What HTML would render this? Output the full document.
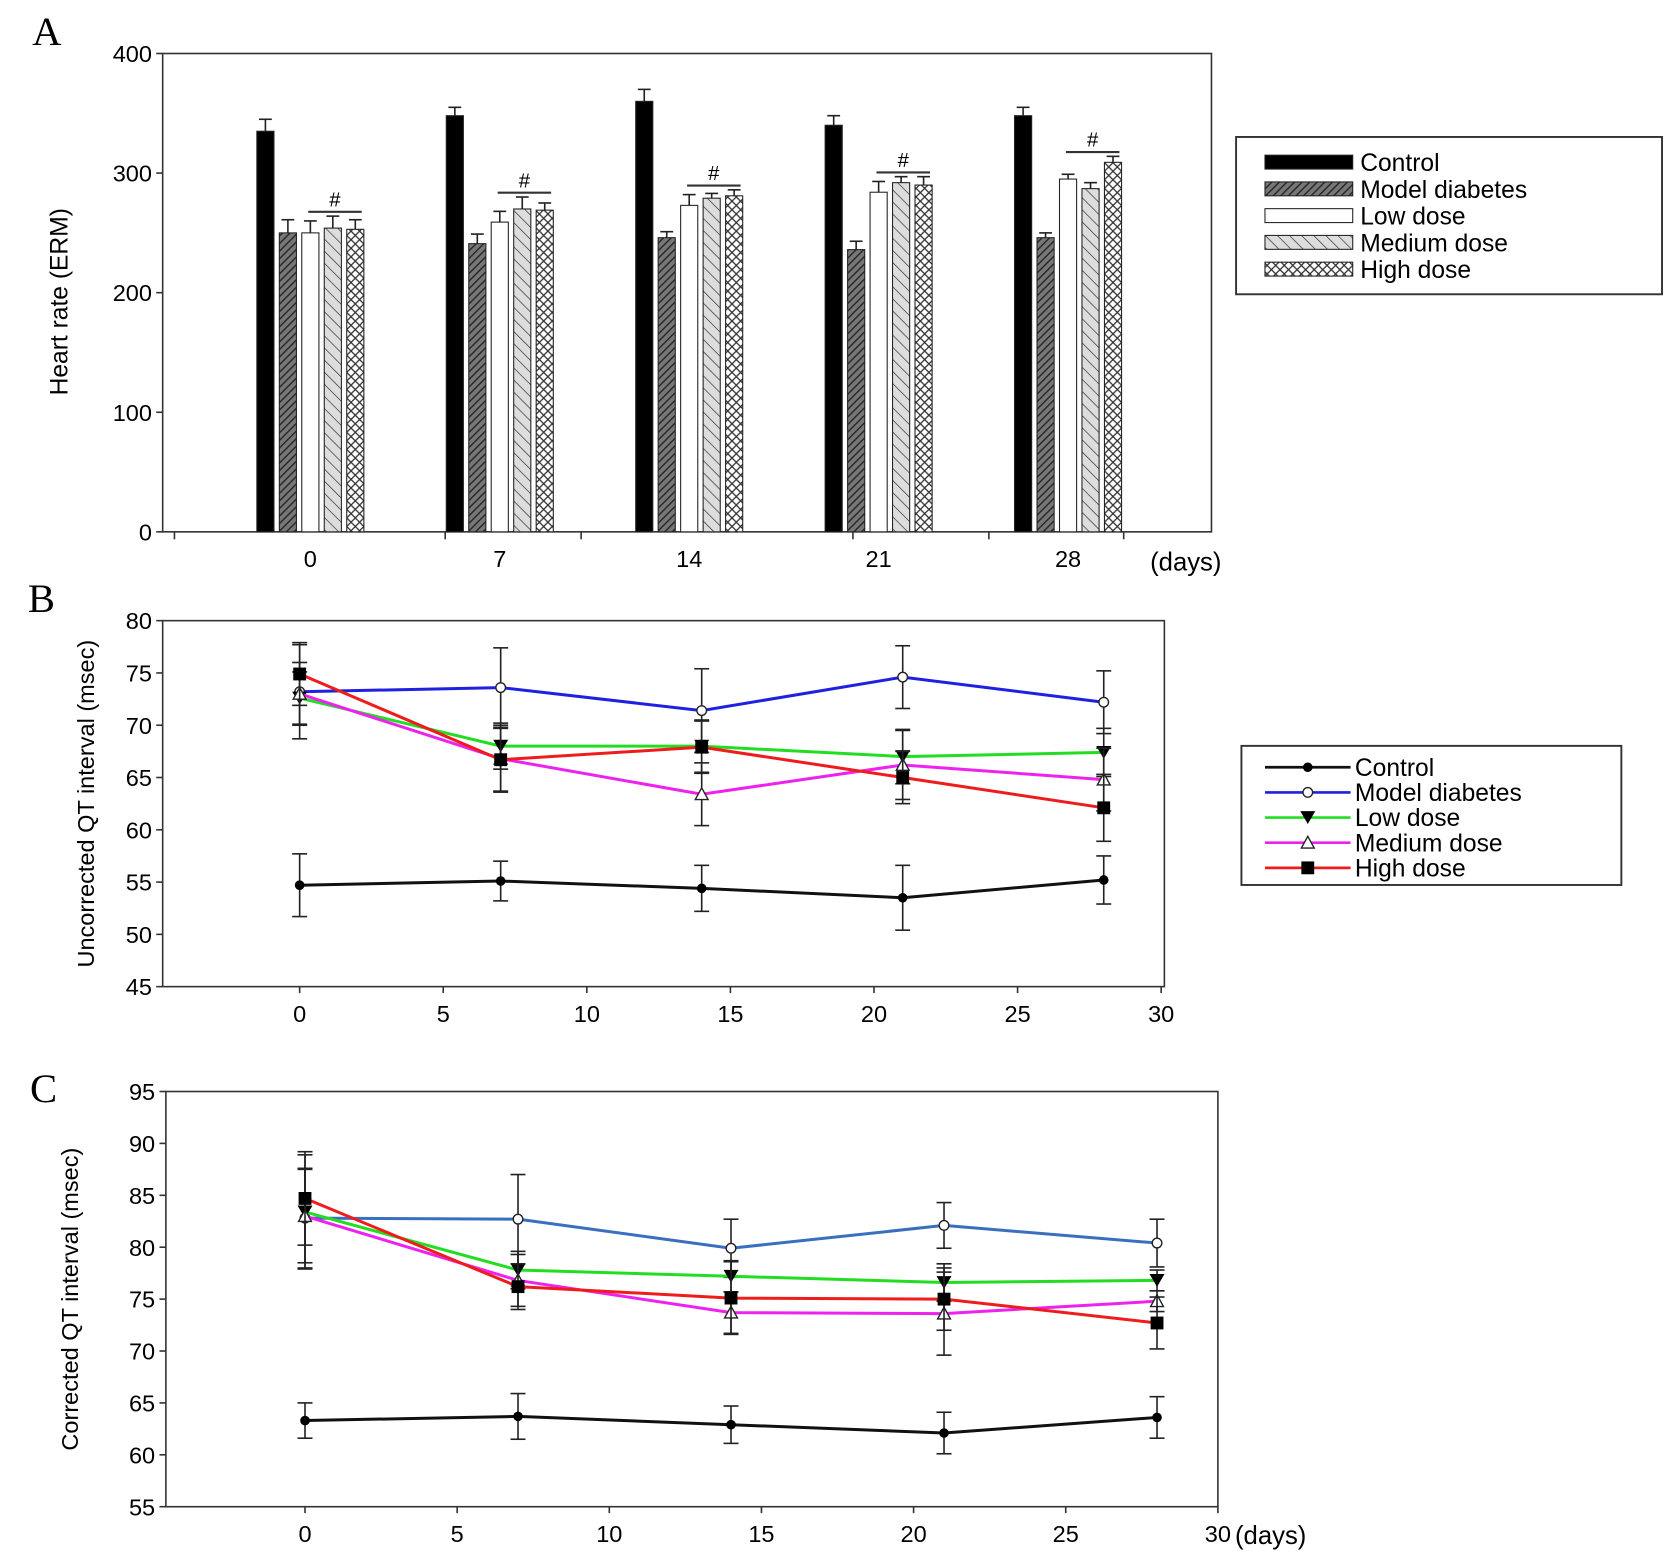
<!DOCTYPE html>
<html><head><meta charset="utf-8">
<style>
html,body{margin:0;padding:0;background:#fff;}
svg{display:block;font-family:"Liberation Sans",Arial,sans-serif;}
</style></head>
<body>
<svg id="fig" width="1677" height="1557" viewBox="0 0 1567 1455" preserveAspectRatio="none" xmlns="http://www.w3.org/2000/svg">
<defs>
<pattern id="pModel" width="5" height="5" patternUnits="userSpaceOnUse" patternTransform="rotate(45)"><rect width="5" height="5" fill="#777"/><line x1="0" y1="0" x2="0" y2="5" stroke="#222" stroke-width="2.5"/></pattern>
<pattern id="pMed" width="8" height="8" patternUnits="userSpaceOnUse" patternTransform="rotate(-45)"><rect width="8" height="8" fill="#ddd"/><line x1="0" y1="0" x2="0" y2="8" stroke="#333" stroke-width="1.3"/></pattern>
<pattern id="pHigh" width="8" height="8" patternUnits="userSpaceOnUse"><rect width="8" height="8" fill="#fff"/><path d="M0,0L8,8M8,0L0,8" stroke="#333" stroke-width="1.2"/></pattern>
</defs>
<g id="gA"></g>
<g id="gB"></g>
<g id="gC"></g>
</svg>
<script>
// ---------- Panel A data ----------
const daysA = ["0","7","14","21","28"];
const seriesNames = ["Control","Model diabetes","Low dose","Medium dose","High dose"];
const hrControl = [335,348,360,340,348];
const hrModel = [250,241,246,236,246];
const hrLow = [250,259,273,284,295];
const hrMedium = [254,270,279,292,287];
const hrHigh = [253,269,281,290,309];
const hrControlErr = [10,7,10,8,7];
const hrModelErr = [11,8,5,7,4];
const hrLowErr = [10,9,9,9,4];
const hrMediumErr = [10,10,4,5,5];
const hrHighErr = [8,6,5,7,5];
const ticksA = [0,100,200,300,400];

// ---------- Panel B data ----------
const days = [0,7,14,21,28];
const qtControl = [54.7,55.1,54.4,53.5,55.2];
const qtModel = [73.2,73.6,71.4,74.6,72.2];
const qtLow = [72.6,68.0,68.0,67.0,67.4];
const qtMedium = [73.0,66.8,63.4,66.2,64.8];
const qtHigh = [74.9,66.7,67.9,65.0,62.1];
const qtControlErr = [3.0,1.9,2.2,3.1,2.3];
const qtModelErr = [4.5,3.8,4.0,3.0,3.0];
const qtLowErr = [2.5,2.2,2.5,2.6,2.3];
const qtMediumErr = [3.0,3.2,3.0,3.3,3.0];
const qtHighErr = [3.0,3.0,2.5,2.5,3.2];
const ticksBY = [45,50,55,60,65,70,75,80];
const ticksX = [0,5,10,15,20,25,30];

// ---------- Panel C data ----------
const cqtControl = [63.3,63.7,62.9,62.1,63.6];
const cqtModel = [82.8,82.7,79.9,82.1,80.4];
const cqtLow = [83.4,77.8,77.2,76.6,76.8];
const cqtMedium = [83.0,76.8,73.7,73.6,74.8];
const cqtHigh = [84.7,76.2,75.1,75.0,72.7];
const cqtControlErr = [1.7,2.2,1.8,2.0,2.0];
const cqtModelErr = [4.8,4.3,2.8,2.2,2.3];
const cqtLowErr = [5.5,1.8,1.5,1.8,1.0];
const cqtMediumErr = [4.5,2.5,2.0,4.0,1.0];
const cqtHighErr = [4.5,2.2,3.5,3.0,2.5];
const ticksCY = [55,60,65,70,75,80,85,90,95];

const NS="http://www.w3.org/2000/svg";
function mk(parent,tag,attrs,text){const e=document.createElementNS(NS,tag);for(const k in attrs)e.setAttribute(k,attrs[k]);if(text!==undefined)e.textContent=text;parent.appendChild(e);return e;}

// ===== Panel A =====
(function(){
const g=document.getElementById('gA');
const L=152,R=1132,T=50,B=497;
const yA=v=>B-v*(B-T)/400;
const xA=i=>290+i*177;
let e=mk(g,'text',{x:30,y:42,'font-family':'Liberation Serif, serif','font-size':38});e.textContent='A';

e=mk(g,'rect',{x:L,y:T,width:R-L,height:B-T,fill:'none',stroke:'#333','stroke-width':1.5});

ticksA.forEach(t=>{mk(g,'line',{x1:L-6,x2:L,y1:yA(t),y2:yA(t),stroke:'#333','stroke-width':1.5});
 const tx=mk(g,'text',{x:L-10,y:yA(t)+8,'text-anchor':'end','font-size':22},String(t));
 });
[163,416,543,797,924,1050].forEach(x=>mk(g,'line',{x1:x,x2:x,y1:B,y2:B+7,stroke:'#333','stroke-width':1.5}));
daysA.forEach((d,i)=>{const tx=mk(g,'text',{x:xA(i),y:530,'text-anchor':'middle','font-size':22},d);
 });
e=mk(g,'text',{x:1108,y:533,'text-anchor':'middle','font-size':24},'(days)');

e=mk(g,'text',{x:63,y:282,'text-anchor':'middle','font-size':23,transform:'rotate(-90 63 282)'},'Heart rate (ERM)');

const vals=[hrControl,hrModel,hrLow,hrMedium,hrHigh];
const errs=[hrControlErr,hrModelErr,hrLowErr,hrMediumErr,hrHighErr];
const fills=['#000','url(#pModel)','#fff','url(#pMed)','url(#pHigh)'];
const bw=16,step=21;
daysA.forEach((d,i)=>{
 vals.forEach((s,j)=>{
  const cx=xA(i)-2*step+j*step;
  const r=mk(g,'rect',{x:cx-bw/2,y:yA(s[i]),width:bw,height:B-yA(s[i]),fill:fills[j],stroke:'#222','stroke-width':1});
  
  const top=yA(s[i]+errs[j][i]);
  mk(g,'line',{x1:cx,x2:cx,y1:yA(s[i]),y2:top,stroke:'#222','stroke-width':1.5});
  mk(g,'line',{x1:cx-6,x2:cx+6,y1:top,y2:top,stroke:'#222','stroke-width':1.5});
 });
 let mx=0;for(let j=2;j<5;j++)mx=Math.max(mx,vals[j][i]+errs[j][i]);
 const yb=yA(mx)-4;
 const x1=xA(i)-2,x2=xA(i)+2*step+6;
 mk(g,'line',{x1:x1,x2:x2,y1:yb,y2:yb,stroke:'#333','stroke-width':2});
 const h=mk(g,'text',{x:(x1+x2)/2,y:yb-5,'text-anchor':'middle','font-size':19},'#');
 
});
const lg=mk(g,'g',{});

mk(lg,'rect',{x:1155,y:128,width:398,height:147,fill:'#fff',stroke:'#333','stroke-width':1.8});
seriesNames.forEach((n,j)=>{const y=152+j*25;
 mk(lg,'rect',{x:1182,y:y-7,width:82,height:13,fill:fills[j],stroke:'#222','stroke-width':1});
 const t=mk(lg,'text',{x:1271,y:y+8,'font-size':23},n);
 });
})();

// ===== Line panels =====
function linePanel(g,opt){
 const {L,R,T,B,ymin,ymax,x0,x30,yticks,series,errs,colors,label,labelY,ytitle,ytitleX,daysUnit,legend}=opt;
 const X=d=>x0+d*(x30-x0)/30;
 const Y=v=>B-(v-ymin)*(B-T)/(ymax-ymin);
 let e=mk(g,'text',{x:opt.lx,y:labelY,'font-family':'Liberation Serif, serif','font-size':38},label);
 
 e=mk(g,'rect',{x:L,y:T,width:R-L,height:B-T,fill:'none',stroke:'#333','stroke-width':1.5});
 
 yticks.forEach(t=>{mk(g,'line',{x1:L-6,x2:L,y1:Y(t),y2:Y(t),stroke:'#333','stroke-width':1.5});
  const tx=mk(g,'text',{x:L-10,y:Y(t)+8,'text-anchor':'end','font-size':22},String(t));
  });
 ticksX.forEach(t=>{mk(g,'line',{x1:X(t),x2:X(t),y1:B,y2:B+6,stroke:'#333','stroke-width':1.5});
  const tx=mk(g,'text',{x:X(t),y:B+33,'text-anchor':'middle','font-size':22},String(t));
  });
 if(daysUnit){e=mk(g,'text',{x:X(30)+16,y:B+35,'font-size':24},'(days)');
  }
 const cy=(T+B)/2;
 e=mk(g,'text',{x:ytitleX,y:cy,'text-anchor':'middle','font-size':22,transform:`rotate(-90 ${ytitleX} ${cy})`},ytitle);
 
 series.forEach((s,j)=>{
  const sg=mk(g,'g',{});
  
  
  s.forEach((v,i)=>{const x=X(days[i]),e1=Y(v+errs[j][i]),e2=Y(v-errs[j][i]);
   mk(sg,'line',{x1:x,x2:x,y1:e1,y2:e2,stroke:'#222','stroke-width':1.5});
   mk(sg,'line',{x1:x-7,x2:x+7,y1:e1,y2:e1,stroke:'#222','stroke-width':1.5});
   mk(sg,'line',{x1:x-7,x2:x+7,y1:e2,y2:e2,stroke:'#222','stroke-width':1.5});});
  const pts=s.map((v,i)=>X(days[i])+','+Y(v)).join(' ');
  const pl=mk(sg,'polyline',{points:pts,fill:'none',stroke:colors[j],'stroke-width':2.8});
  
  s.forEach((v,i)=>{const m=marker(sg,j,X(days[i]),Y(v));
   });
 });
 const lg=mk(g,'g',{});
 
 mk(lg,'rect',{x:legend.x,y:legend.y,width:legend.w,height:legend.h,fill:'#fff',stroke:'#333','stroke-width':1.8});
 seriesNames.forEach((n,j)=>{const y=legend.y+20+j*23.5;
  mk(lg,'line',{x1:legend.x+22,x2:legend.x+102,y1:y,y2:y,stroke:colors[j],'stroke-width':2.5});
  marker(lg,j,legend.x+62,y);
  const t=mk(lg,'text',{x:legend.x+106,y:y+8,'font-size':23},n);
  });
}
function marker(g,j,x,y){
 if(j===0)return mk(g,'circle',{cx:x,cy:y,r:4.5,fill:'#000'});
 if(j===1)return mk(g,'circle',{cx:x,cy:y,r:4.5,fill:'#fff',stroke:'#222','stroke-width':1.3});
 if(j===2)return mk(g,'path',{d:`M${x-7},${y-6}L${x+7},${y-6}L${x},${y+6}Z`,fill:'#000'});
 if(j===3)return mk(g,'path',{d:`M${x-6},${y+5}L${x+6},${y+5}L${x},${y-6}Z`,fill:'#fff',stroke:'#222','stroke-width':1.3});
 return mk(g,'rect',{x:x-6,y:y-6,width:12,height:12,fill:'#000'});
}
linePanel(document.getElementById('gB'),{L:152,R:1088,T:580,B:922,ymin:45,ymax:80,x0:280,x30:1085,
 yticks:ticksBY,series:[qtControl,qtModel,qtLow,qtMedium,qtHigh],
 errs:[qtControlErr,qtModelErr,qtLowErr,qtMediumErr,qtHighErr],
 colors:['#111','#2020e0','#22dd22','#ee22ee','#ee1c1c'],label:'B',lx:26,labelY:572,
 ytitle:'Uncorrected QT interval (msec)',ytitleX:88,daysUnit:false,
 legend:{x:1160,y:697,w:355,h:130}});
linePanel(document.getElementById('gC'),{L:155,R:1138,T:1020,B:1408,ymin:55,ymax:95,x0:285,x30:1138,
 yticks:ticksCY,series:[cqtControl,cqtModel,cqtLow,cqtMedium,cqtHigh],
 errs:[cqtControlErr,cqtModelErr,cqtLowErr,cqtMediumErr,cqtHighErr],
 colors:['#111','#3a6fc0','#22dd22','#ee22ee','#ee1c1c'],label:'C',lx:28,labelY:1030,
 ytitle:'Corrected QT interval (msec)',ytitleX:73,daysUnit:true,
 legend:{x:-2000,y:-2000,w:1,h:1}});
</script>
</body></html>
